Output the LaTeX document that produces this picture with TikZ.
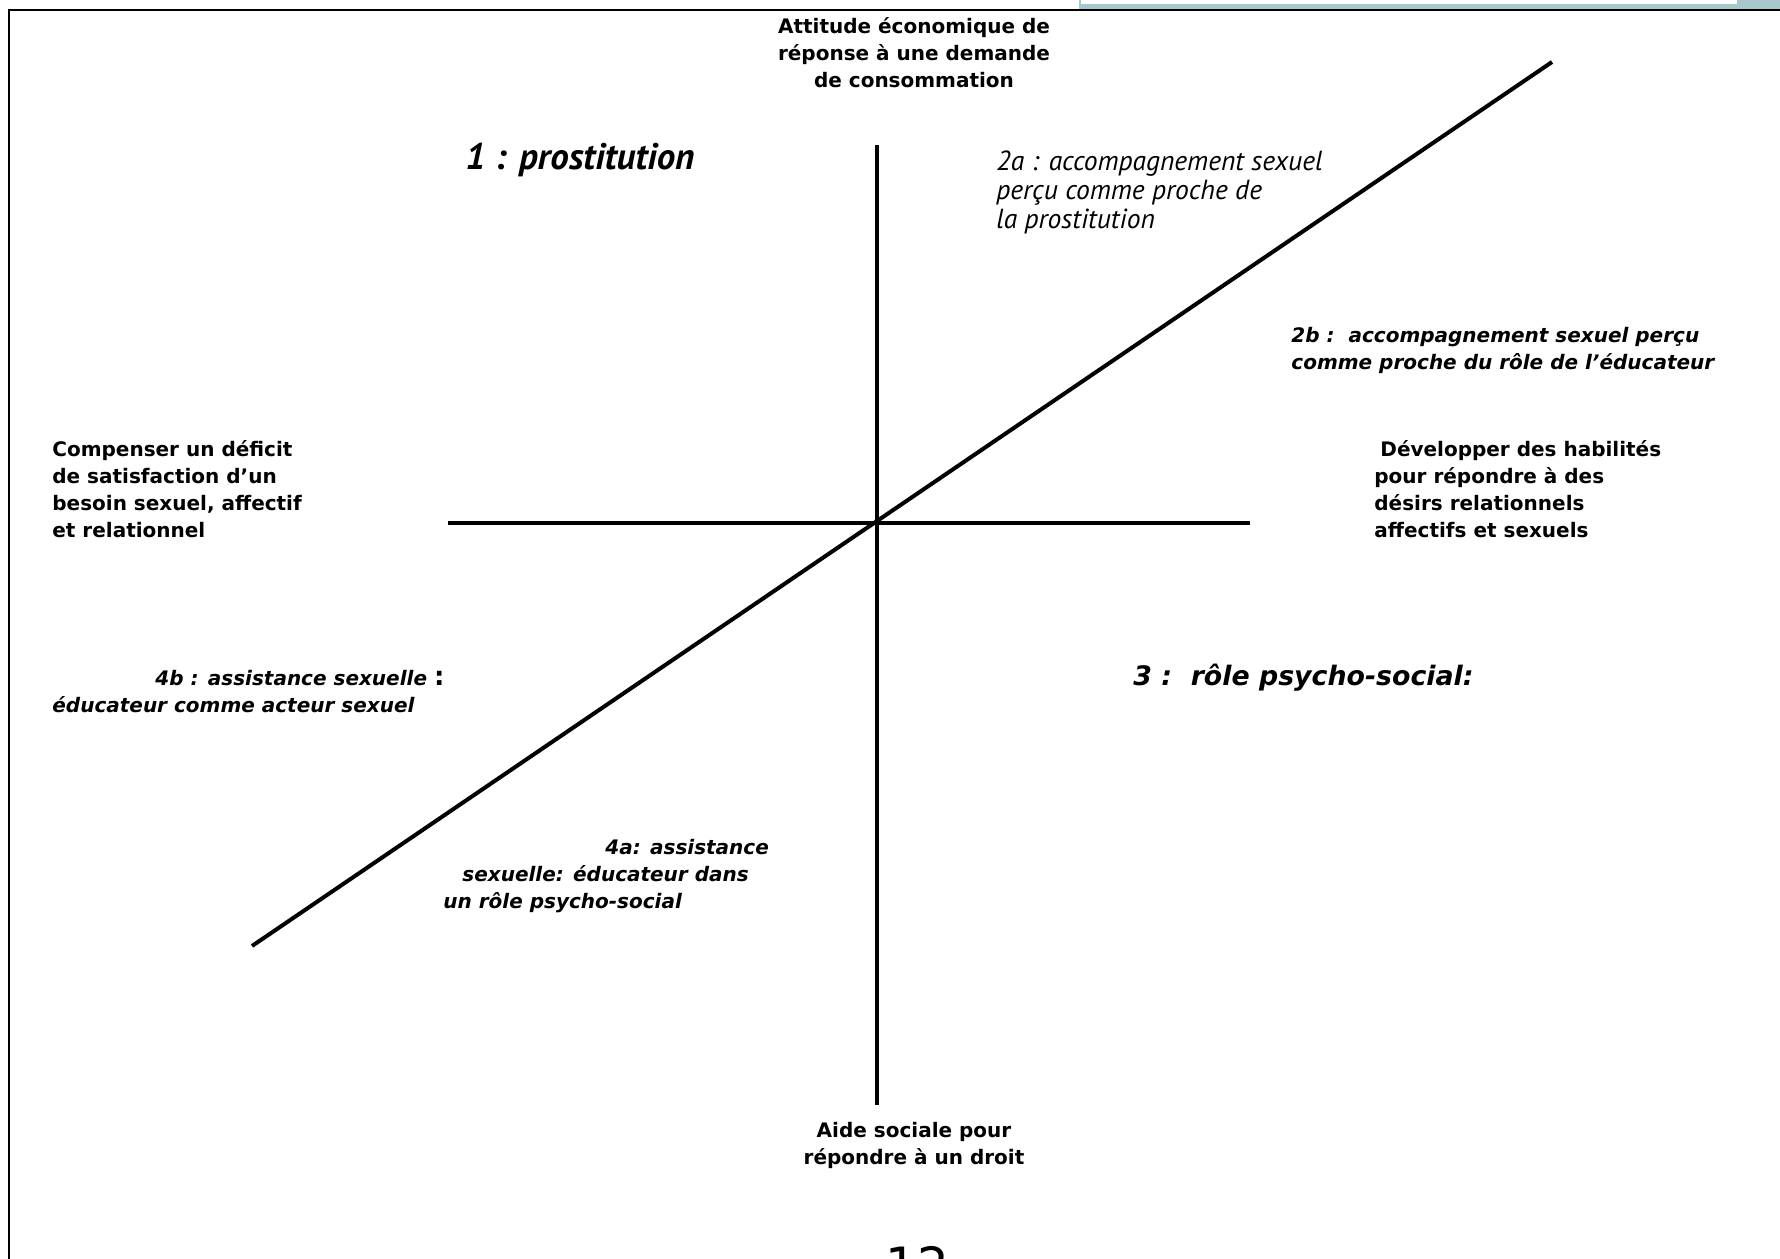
\documentclass[tikz,border=0pt]{standalone}
\usepackage{fontspec}
\setmainfont{DejaVu Sans}
\newfontfamily\etroit{PT Sans}
\usetikzlibrary{positioning}
\definecolor{barre}{RGB}{166,200,204}
\tikzset{
  axe/.style={line width=2pt},
  pole/.style={font=\bfseries\fontsize{10}{13.5}\selectfont,inner sep=0pt},
  zone/.style={font=\bfseries\itshape\fontsize{10}{13.5}\selectfont,inner sep=0pt,align=left},
  fine/.style={font=\etroit\itshape\fontsize{13.8}{14.5}\selectfont,inner sep=0pt,align=left}
}

\begin{document}
\begin{tikzpicture}[x=0.5pt,y=-0.5pt]
    \useasboundingbox (0,0) rectangle (1780,1258);
    \clip (0,0) rectangle (1780,1258);
    \fill[barre] (1079,0) rectangle (1780,10);
    \fill[white] (1081,0) rectangle (1737,4);
    \draw[line width=1.2pt] (9,1290) -- (9,10) -- (1800,10);

    \coordinate (n) at (877,145);
    \coordinate (s) at (877,1105);
    \coordinate (w) at (448,523);
    \coordinate (e) at (1250,523);
    \coordinate (sw) at (252,946);
    \coordinate (ne) at (1552,62);
    \draw[axe] (n) -- (s);
    \draw[axe] (w) -- (e);
    \draw[axe] (sw) -- (ne);

    \node[pole,align=center] (haut) at (914,53) {Attitude économique de\\réponse à une demande\\de consommation};
    \node[pole,align=center] (bas) at (914,1145) {Aide sociale pour\\répondre à un droit};
    \node[pole,align=left,anchor=west] (gauche) at (52,489) {Compenser un déficit\\de satisfaction d’un\\besoin sexuel, affectif\\et relationnel};
    \node[pole,align=left,anchor=west] (droite) at (1374,489) {\hspace*{3pt}Développer des habilités\\pour répondre à des\\désirs relationnels\\affectifs et sexuels};

    \node[fine,anchor=west,font=\etroit\bfseries\itshape\fontsize{18.5}{19}\selectfont] (q1) at (465,160) {1 : prostitution};
    \node[fine,anchor=west] (q2a) at (996,192) {2a : accompagnement sexuel\\perçu comme proche de\\la prostitution};
    \node[zone,anchor=west] (q2b) at (1291,350) {2b :\ \ accompagnement sexuel perçu\\comme proche du rôle de l’éducateur};
    \node[zone,anchor=west,font=\bfseries\itshape\fontsize{13.4}{15}\selectfont] (q3) at (1133,678) {3 :\ \ rôle psycho-social:};
    \node[zone,anchor=west] (q4b) at (52,692) {\hspace*{51.5pt}4b : assistance sexuelle {\upshape\fontsize{13}{13}\selectfont :}\\éducateur comme acteur sexuel};
    \node[zone,anchor=west] (q4a) at (443,876) {\hspace*{81pt}4a: assistance\\\hspace*{9.5pt}sexuelle: éducateur dans\\un rôle psycho-social};

    \node[font=\fontsize{25}{30}\selectfont,anchor=base,inner sep=0pt] (page) at (917,1283) {12};
\end{tikzpicture}
\end{document}
